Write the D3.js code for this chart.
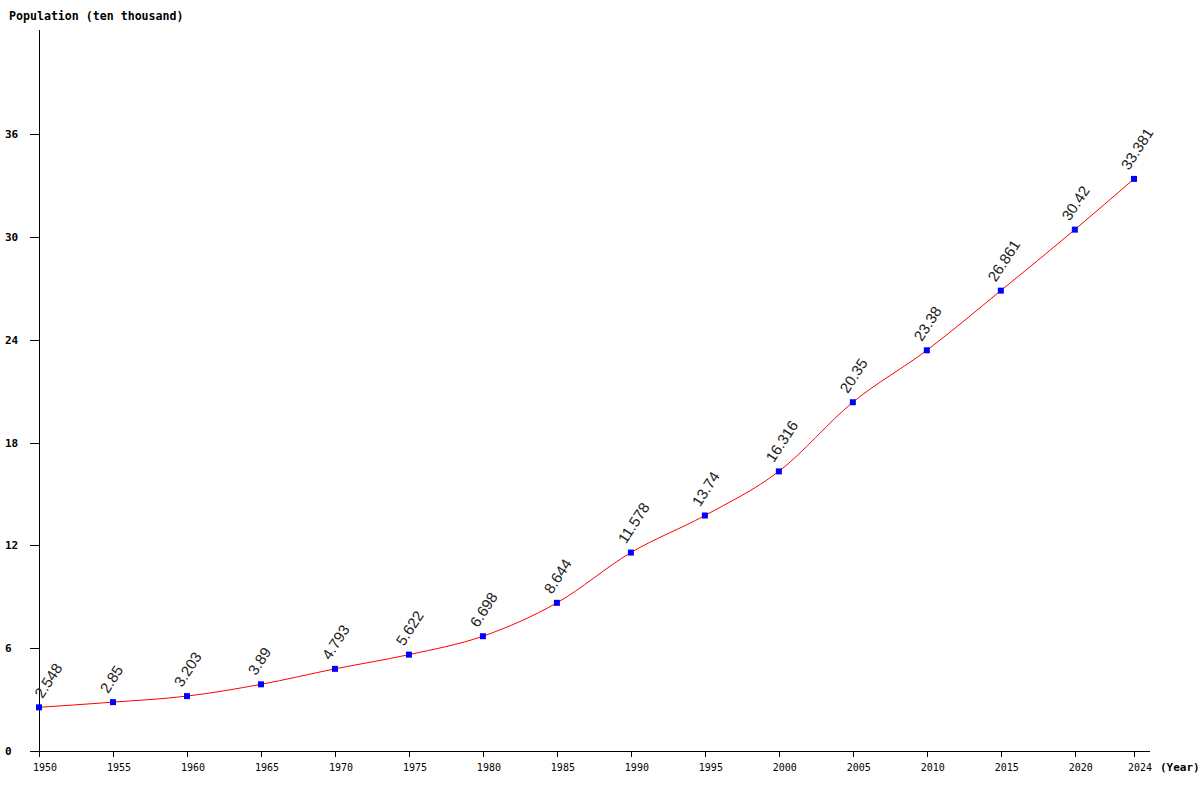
<!DOCTYPE html>
<html>
<head>
<meta charset="utf-8">
<script src="https://cdn.jsdelivr.net/npm/d3@7"></script>
<style>
  body { margin: 0; background: #fff; }
</style>
</head>
<body>
<div id="chart"></div>
<script>
const width = 1200;
const height = 800;

// Data
const years = [1950, 1955, 1960, 1965, 1970, 1975, 1980, 1985, 1990, 1995, 2000, 2005, 2010, 2015, 2020, 2024];
const population = [2.548, 2.85, 3.203, 3.89, 4.793, 5.622, 6.698, 8.644, 11.578, 13.74, 16.316, 20.35, 23.38, 26.861, 30.42, 33.381];
const yTicks = [0, 6, 12, 18, 24, 30, 36];

const plotLeft = 39, plotRight = 1150, plotTop = 30, plotBottom = 751;

const x = d3.scaleLinear().domain([1950, 2024]).range([plotLeft, 1134]);
const y = d3.scaleLinear().domain([0, 36]).range([plotBottom, 134]);

const svg = d3.select("#chart").append("svg").attr("width", width).attr("height", height);

const points = years.map((yr, i) => ({ year: yr, value: population[i] }));

// Axes (drawn by hand to look like the original bitmap chart)
svg.append("line").attr("x1", plotLeft + 0.5).attr("x2", plotLeft + 0.5).attr("y1", plotTop).attr("y2", plotBottom)
  .attr("stroke", "#000").attr("stroke-width", 1);
svg.append("line").attr("x1", plotLeft).attr("x2", plotRight).attr("y1", plotBottom + 0.5).attr("y2", plotBottom + 0.5)
  .attr("stroke", "#000").attr("stroke-width", 1);

// y ticks
const yg = svg.append("g");
yg.selectAll("line").data(yTicks).join("line")
  .attr("x1", plotLeft - 9).attr("x2", plotLeft).attr("y1", d => Math.round(y(d)) + 0.5).attr("y2", d => Math.round(y(d)) + 0.5)
  .attr("stroke", "#000");
yg.selectAll("text").data(yTicks).join("text")
  .attr("x", 5).attr("y", d => y(d) + 4)
  .attr("font-family", "DejaVu Sans Mono").attr("font-weight", "bold").attr("font-size", 11)
  .text(d => d);

// x ticks
const xg = svg.append("g");
xg.selectAll("line").data(years).join("line")
  .attr("x1", d => Math.round(x(d)) + 0.5).attr("x2", d => Math.round(x(d)) + 0.5)
  .attr("y1", plotBottom).attr("y2", plotBottom + 6)
  .attr("stroke", "#000");
xg.selectAll("text").data(years).join("text")
  .attr("x", d => x(d) + 6).attr("y", plotBottom + 20)
  .attr("text-anchor", "middle")
  .attr("font-family", "DejaVu Sans Mono").attr("font-weight", "normal").attr("font-size", 10)
  .text(d => d);

// Axis titles
svg.append("text").attr("x", 9).attr("y", 20)
  .attr("font-family", "DejaVu Sans Mono").attr("font-weight", "bold").attr("font-size", 11.6)
  .text("Population (ten thousand)");
svg.append("text").attr("x", 1160).attr("y", 771)
  .attr("font-family", "DejaVu Sans Mono").attr("font-weight", "bold").attr("font-size", 11)
  .text("(Year)");

// Line
const line = d3.line().x(d => x(d.year)).y(d => y(d.value)).curve(d3.curveMonotoneX);
svg.append("path").datum(points).attr("d", line)
  .attr("fill", "none").attr("stroke", "red").attr("stroke-width", 1);

// Markers
svg.append("g").selectAll("rect").data(points).join("rect")
  .attr("x", d => x(d.year) - 3).attr("y", d => y(d.value) - 3)
  .attr("width", 6).attr("height", 6).attr("fill", "blue");

// Value labels (kept right of the y axis)
svg.append("g").selectAll("text").data(points).join("text")
  .attr("transform", d => `translate(${Math.max(x(d.year) - 5, plotLeft + 3.5)},${y(d.value) - 8}) rotate(-57)`)
  .attr("font-family", "Liberation Sans, Arial").attr("font-size", 15).attr("fill", "#222")
  .text(d => d.value);
</script>
</body>
</html>
